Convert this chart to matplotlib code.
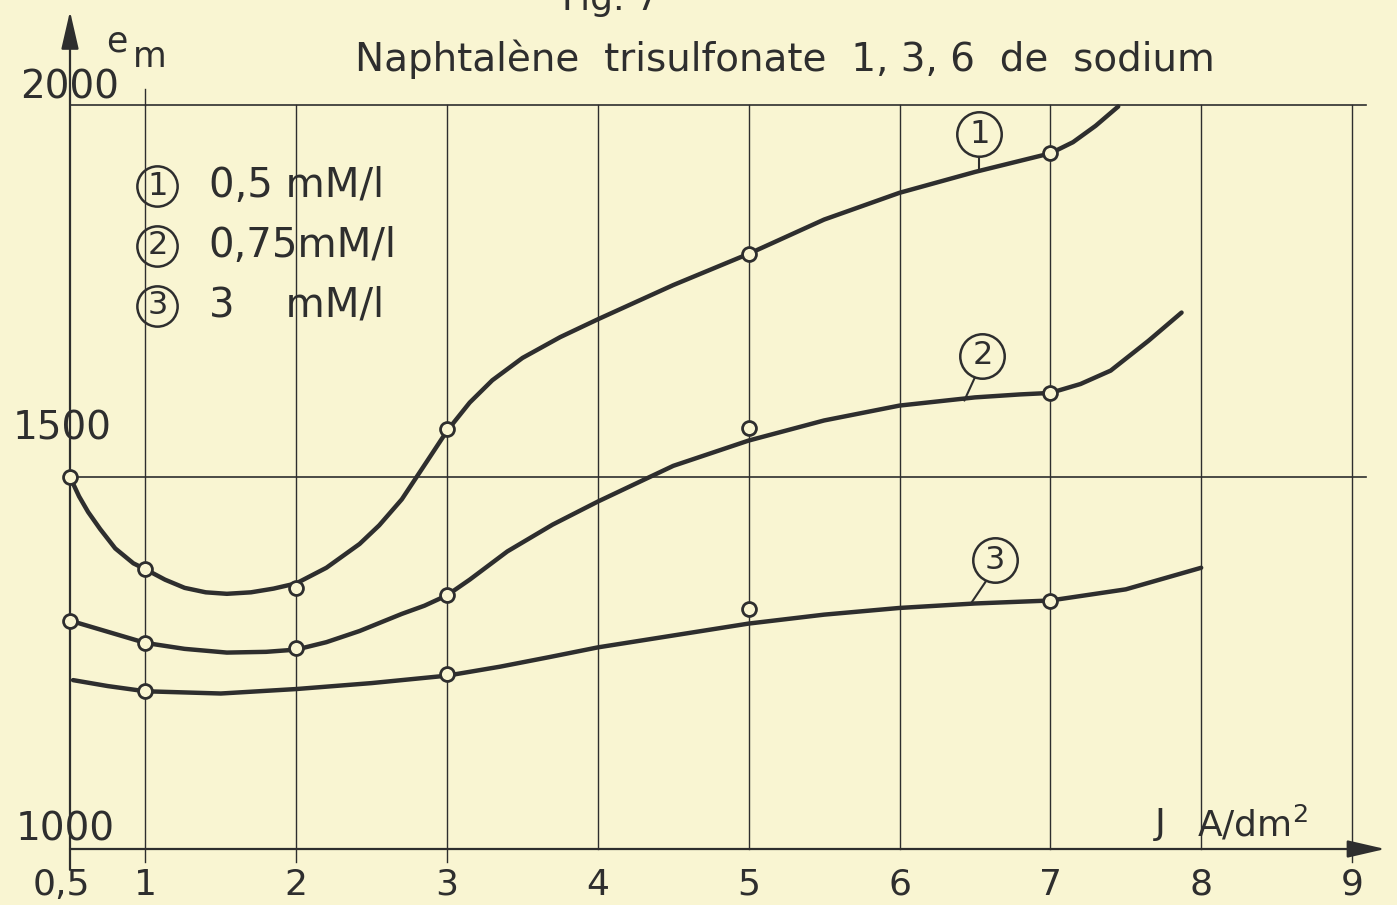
import matplotlib.pyplot as plt

BG = "#F9F5D2"
INK = "#2E2E2E"

plt.rcParams["font.family"] = ["DejaVu Sans"]

# measured points (open circles)
x_pts = [0.5, 1, 2, 3, 5, 7]
em_05 = [1500, 1376, 1351, 1565, 1800, 1935]
em_075 = [1307, 1277, 1270, 1341, 1566, 1613]
x_pts_3 = [1, 3, 5, 7]
em_3 = [1212, 1235, 1323, 1334]

# hand-drawn curves, read along their length
curve1_x = [0.5, 0.56, 0.62, 0.7, 0.8, 0.92, 1.0, 1.13, 1.26, 1.4, 1.54, 1.7, 1.85, 2.0,
            2.2, 2.42, 2.55, 2.7, 2.87, 3.0, 3.15, 3.3, 3.5, 3.75, 4.0, 4.5, 5.0, 5.5,
            6.0, 6.5, 7.0, 7.15, 7.3, 7.45]
curve1_y = [1500, 1474, 1453, 1430, 1404, 1384, 1376, 1362, 1351, 1345, 1343, 1345, 1350, 1357,
            1378, 1410, 1435, 1470, 1522, 1562, 1600, 1630, 1660, 1688, 1712, 1758, 1800, 1846,
            1882, 1910, 1935, 1950, 1972, 1998]
curve2_x = [0.5, 0.75, 1.0, 1.26, 1.54, 1.8, 2.0, 2.2, 2.42, 2.7, 2.85, 3.0, 3.15, 3.4,
            3.7, 4.0, 4.5, 5.0, 5.5, 6.0, 6.5, 6.8, 7.0, 7.2, 7.4, 7.65, 7.87]
curve2_y = [1307, 1292, 1277, 1269, 1264, 1265, 1268, 1278, 1293, 1316, 1327, 1341, 1362, 1400,
            1436, 1467, 1515, 1549, 1576, 1596, 1607, 1611, 1613, 1625, 1643, 1683, 1721]
curve3_x = [0.52, 0.75, 1.0, 1.5, 2.0, 2.5, 3.0, 3.35, 3.68, 4.0, 4.5, 5.0, 5.5, 6.0, 6.5,
            7.0, 7.5, 8.0]
curve3_y = [1227, 1219, 1212, 1209, 1215, 1223, 1233, 1245, 1258, 1271, 1287, 1303, 1315, 1324,
            1330, 1334, 1349, 1378]

x_ticks = [0.5, 1, 2, 3, 4, 5, 6, 7, 8, 9]
x_tick_labels = ["0,5", "1", "2", "3", "4", "5", "6", "7", "8", "9"]
y_ticks = [1000, 1500, 2000]
y_tick_labels = ["1000", "1500", "2000"]

legend_nums = ["1", "2", "3"]
legend_texts = ["0,5 mM/l", "0,75mM/l", "3    mM/l"]

fig = plt.figure(figsize=(13.97, 9.05), dpi=100)
fig.patch.set_facecolor(BG)
ax = fig.add_axes([70 / 1397, 56 / 905, 1282 / 1397, 744 / 905])
ax.set_xlim(0.5, 9)
ax.set_ylim(1000, 2000)
ax.axis("off")

# grid
for xv in x_ticks[1:]:
    lo = 983 if xv in (1, 2, 3, 9) else 1000
    ax.plot([xv, xv], [lo, 2000], color=INK, lw=1.0, clip_on=False, zorder=1)
ax.plot([1, 1], [2000, 2022], color=INK, lw=1.0, clip_on=False, zorder=1)
for yv in y_ticks[1:]:
    ax.plot([0.5, 9.09], [yv, yv], color=INK, lw=1.2, clip_on=False, zorder=1)

# axes with arrows
arrow = dict(arrowstyle="-|>,head_length=1.3,head_width=0.3", color=INK, lw=1.6,
             mutation_scale=18, shrinkA=0, shrinkB=0)
ax.annotate("", xy=(0.5, 2126), xytext=(0.5, 972), arrowprops=arrow, annotation_clip=False)
ax.annotate("", xy=(9.22, 1000), xytext=(0.5, 1000), arrowprops=arrow, annotation_clip=False)

# curves and points
for cx, cy in [(curve1_x, curve1_y), (curve2_x, curve2_y), (curve3_x, curve3_y)]:
    ax.plot(cx, cy, color=INK, lw=3.2, solid_capstyle="round", solid_joinstyle="round",
            clip_on=False, zorder=3)
for px, py in [(x_pts, em_05), (x_pts, em_075), (x_pts_3, em_3)]:
    ax.plot(px, py, "o", ms=10, mfc=BG, mec=INK, mew=2.0, clip_on=False, zorder=4)

# tick labels
for xv, lab in zip(x_ticks, x_tick_labels):
    dx = -0.06 if lab == "0,5" else 0
    ax.text(xv + dx, 952, lab, ha="center", va="center", fontsize=26, color=INK, clip_on=False)
y_lab_pos = [(0.47, 1001), (0.45, 1540), (0.5, 1998)]
for (lx, ly), lab in zip(y_lab_pos, y_tick_labels):
    ax.text(lx, ly, lab, ha="center", va="bottom", fontsize=28, color=INK, clip_on=False)

# axis titles
ax.text(0.81, 2085, "e", ha="center", va="center", fontsize=25, color=INK, clip_on=False)
ax.text(1.03, 2064, "m", ha="center", va="center", fontsize=25, color=INK, clip_on=False)
ax.text(7.73, 1034, "J", ha="center", va="center", fontsize=26, color=INK)
ax.text(7.97, 1034, "A/dm$^2$", ha="left", va="center", fontsize=26, color=INK)

# title
ax.text(5.24, 2062, "Naphtalène  trisulfonate  1, 3, 6  de  sodium", ha="center",
        va="center", fontsize=28, color=INK, clip_on=False)
fig.text(610 / 1397, 1.0, "Fig. 7", ha="center", va="center", fontsize=26, color=INK)

# legend
leg_y = [1891, 1811, 1730]
for num, txt, ly in zip(legend_nums, legend_texts, leg_y):
    ax.plot([1.08], [ly], "o", ms=29, mfc="none", mec=INK, mew=1.8, clip_on=False)
    ax.text(1.08, ly, num, ha="center", va="center", fontsize=23, color=INK)
    ax.text(1.42, ly, txt, ha="left", va="center", fontsize=29, color=INK)

# curve labels with stems
lab_pos = [(6.53, 1961), (6.55, 1663), (6.63, 1388)]
stems = [((6.53, 6.53), (1931, 1914)), ((6.50, 6.43), (1634, 1603)), ((6.57, 6.48), (1359, 1332))]
for num, (lx, ly), (sx, sy) in zip(legend_nums, lab_pos, stems):
    ax.plot([lx], [ly], "o", ms=32, mfc=BG, mec=INK, mew=1.8, clip_on=False, zorder=5)
    ax.text(lx, ly, num, ha="center", va="center", fontsize=23, color=INK, zorder=6)
    ax.plot(sx, sy, color=INK, lw=1.5, zorder=3)

fig.savefig("out.png", dpi=100, facecolor=BG)
